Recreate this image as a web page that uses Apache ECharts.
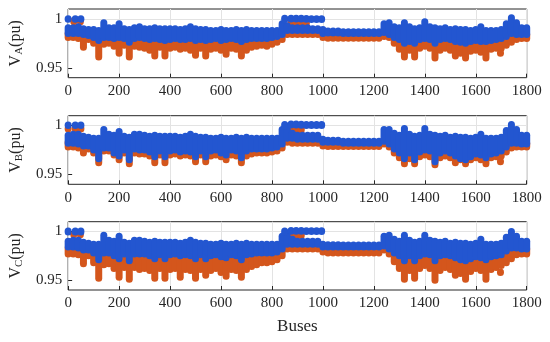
<!DOCTYPE html>
<html><head><meta charset="utf-8">
<script src="https://cdn.jsdelivr.net/npm/echarts@6/dist/echarts.min.js"></script>
<style>html,body{margin:0;padding:0;background:#fff}#c{width:550px;height:342px}</style>
</head><body><div id="c"></div>
<script>
// Bus positions of the sampled bins (every 20 buses, 0..1800)
const buses = Array.from({length: 91}, (_, i) => i * 20);
const xTicks = [0, 200, 400, 600, 800, 1000, 1200, 1400, 1600, 1800];
const yTicks = [0.95, 1];

// ---------- Phase A ----------
const hiBlueA = [
0.991,0.991,0.992,0.990,0.989,0.989,0.988,0.996,0.991,0.991,
0.995,0.990,0.989,0.991,0.992,0.990,0.990,0.991,0.990,0.990,
0.990,0.990,0.989,0.990,0.992,0.990,0.989,0.989,0.988,0.988,
0.989,0.988,0.988,0.989,0.988,0.989,0.988,0.988,0.988,0.988,
0.988,0.988,0.995,0.993,0.991,0.991,0.991,0.991,0.990,0.990,
0.989,0.9875,0.9875,0.9875,0.9868,0.9868,0.9868,0.9868,0.9868,0.9868,
0.9868,0.9868,0.995,0.996,0.992,0.991,0.996,0.992,0.990,0.991,
0.997,0.992,0.991,0.990,0.991,0.989,0.990,0.989,0.989,0.988,
0.989,0.992,0.988,0.988,0.988,0.989,0.995,1.001,0.996,0.991,
0.991];
const loBlueA = [
0.985,0.985,0.985,0.984,0.983,0.981,0.978,0.981,0.981,0.980,
0.981,0.980,0.976,0.980,0.981,0.980,0.979,0.980,0.979,0.978,
0.979,0.980,0.979,0.979,0.980,0.978,0.979,0.978,0.979,0.980,
0.978,0.979,0.980,0.979,0.977,0.979,0.980,0.980,0.980,0.980,
0.981,0.982,0.984,0.988,0.988,0.988,0.988,0.988,0.988,0.988,
0.985,0.9855,0.9855,0.9855,0.985,0.985,0.985,0.985,0.985,0.985,
0.985,0.985,0.986,0.984,0.981,0.979,0.975,0.977,0.975,0.979,
0.980,0.979,0.975,0.979,0.980,0.979,0.977,0.976,0.975,0.977,
0.978,0.977,0.977,0.978,0.979,0.980,0.982,0.985,0.984,0.984,
0.984];
const hiOrangeA = [
0.985,0.985,0.985,0.985,0.985,0.984,0.984,0.984,0.984,0.984,
0.984,0.984,0.984,0.984,0.984,0.984,0.984,0.984,0.984,0.984,
0.984,0.984,0.984,0.984,0.984,0.984,0.984,0.984,0.984,0.984,
0.984,0.984,0.984,0.984,0.984,0.984,0.984,0.984,0.984,0.984,
0.984,0.984,0.986,0.986,0.986,0.986,0.986,0.986,0.986,0.986,
0.984,0.9825,0.9825,0.9825,0.9825,0.9825,0.9825,0.9825,0.9825,0.9825,
0.9825,0.9825,0.984,0.984,0.984,0.984,0.984,0.984,0.984,0.984,
0.984,0.984,0.984,0.984,0.984,0.984,0.984,0.984,0.984,0.984,
0.984,0.984,0.984,0.984,0.984,0.984,0.984,0.984,0.984,0.984,
0.984];
const loOrangeA = [
0.981,0.981,0.980,0.971,0.979,0.975,0.961,0.974,0.975,0.972,
0.965,0.973,0.961,0.972,0.971,0.970,0.968,0.962,0.971,0.962,
0.970,0.971,0.969,0.970,0.968,0.963,0.970,0.962,0.969,0.970,
0.968,0.964,0.970,0.969,0.962,0.968,0.971,0.972,0.973,0.972,
0.974,0.976,0.979,0.984,0.984,0.984,0.984,0.984,0.984,0.984,
0.981,0.9803,0.9803,0.9803,0.9803,0.9803,0.9803,0.9803,0.9803,0.9803,
0.9803,0.9803,0.982,0.981,0.975,0.969,0.961,0.968,0.961,0.970,
0.972,0.970,0.960,0.968,0.970,0.968,0.962,0.965,0.960,0.967,
0.968,0.966,0.960,0.969,0.970,0.970,0.973,0.976,0.979,0.980,
0.980];
// isolated groups: [bus, low, high]
const extraBlueA = [[0,0.9995,1.0],[28,0.9995,1.0],[50,0.9995,1.0],[850,0.999,1.0005],
  [875,0.9998,1.0006],[895,0.9998,1.0006],[915,0.9997,1.0005],[935,0.9995,1.0003],[955,0.9993,1.0],[975,0.9993,1.0],[995,0.9993,1.0]];
const extraOrangeA = [[22,0.997,0.998],[48,0.997,0.998],[875,0.9955,0.9965],[895,0.9955,0.9965],[915,0.9955,0.9965],[935,0.9955,0.9962],[1697,0.965,0.9655]];

// ---------- Phase B ----------
const hiBlueB = [
0.990,0.991,0.991,0.989,0.988,0.987,0.987,0.996,0.991,0.990,
0.994,0.989,0.988,0.991,0.991,0.990,0.989,0.990,0.989,0.989,
0.989,0.989,0.988,0.989,0.991,0.989,0.988,0.988,0.987,0.987,
0.988,0.987,0.987,0.988,0.987,0.988,0.987,0.987,0.987,0.987,
0.987,0.987,0.996,0.996,0.992,0.990,0.990,0.990,0.990,0.990,
0.986,0.985,0.985,0.985,0.984,0.984,0.984,0.984,0.984,0.984,
0.984,0.984,0.996,0.996,0.992,0.990,0.997,0.991,0.989,0.990,
0.997,0.991,0.990,0.989,0.990,0.988,0.989,0.988,0.988,0.987,
0.988,0.991,0.987,0.987,0.987,0.988,0.995,1.001,0.996,0.990,
0.990];
const loBlueB = [
0.982,0.982,0.981,0.979,0.979,0.975,0.966,0.977,0.977,0.972,
0.969,0.975,0.965,0.976,0.975,0.975,0.973,0.968,0.974,0.968,
0.974,0.975,0.973,0.974,0.973,0.968,0.974,0.968,0.974,0.975,
0.972,0.970,0.975,0.974,0.967,0.974,0.976,0.976,0.976,0.976,
0.977,0.978,0.981,0.987,0.987,0.986,0.986,0.986,0.986,0.986,
0.983,0.983,0.983,0.983,0.982,0.982,0.982,0.982,0.982,0.982,
0.982,0.982,0.984,0.981,0.976,0.972,0.966,0.972,0.965,0.973,
0.975,0.974,0.963,0.972,0.974,0.972,0.969,0.966,0.965,0.968,
0.971,0.970,0.967,0.971,0.972,0.974,0.978,0.982,0.982,0.981,
0.981];
const hiOrangeB = [
0.983,0.983,0.983,0.983,0.983,0.982,0.982,0.982,0.982,0.982,
0.982,0.982,0.982,0.982,0.982,0.982,0.982,0.982,0.982,0.982,
0.982,0.982,0.982,0.982,0.982,0.982,0.982,0.982,0.982,0.982,
0.982,0.982,0.982,0.982,0.982,0.982,0.982,0.982,0.982,0.982,
0.982,0.982,0.985,0.985,0.985,0.985,0.985,0.985,0.985,0.985,
0.982,0.9805,0.9805,0.9805,0.9805,0.9805,0.9805,0.9805,0.9805,0.9805,
0.9805,0.9805,0.982,0.982,0.982,0.982,0.982,0.982,0.982,0.982,
0.982,0.982,0.982,0.982,0.982,0.982,0.982,0.982,0.982,0.982,
0.982,0.982,0.982,0.982,0.982,0.982,0.982,0.982,0.982,0.982,
0.982];
const loOrangeB = [
0.978,0.978,0.977,0.972,0.976,0.972,0.962,0.974,0.974,0.970,
0.965,0.972,0.961,0.972,0.971,0.971,0.969,0.962,0.970,0.962,
0.970,0.971,0.969,0.970,0.969,0.963,0.970,0.963,0.969,0.970,
0.968,0.965,0.970,0.969,0.962,0.969,0.971,0.972,0.972,0.972,
0.973,0.974,0.977,0.983,0.982,0.982,0.982,0.982,0.982,0.982,
0.979,0.9785,0.9785,0.9785,0.9785,0.9785,0.9785,0.9785,0.9785,0.9785,
0.9785,0.9785,0.981,0.978,0.972,0.967,0.961,0.966,0.961,0.968,
0.970,0.968,0.960,0.967,0.969,0.967,0.962,0.965,0.961,0.965,
0.967,0.965,0.961,0.967,0.968,0.969,0.973,0.977,0.978,0.978,
0.978];
const extraBlueB = [[0,1.0,1.0005],[28,1.0,1.0005],[50,1.0,1.0005],[850,0.999,1.001],
  [875,1.0005,1.0015],[895,1.0005,1.0015],[915,1.0003,1.0013],[935,1.0,1.001],[955,1.0,1.001],[975,1.0,1.001],[995,1.0,1.001]];
const extraOrangeB = [[0,0.9965,0.997],[28,0.9965,0.997],[50,0.9965,0.997],[875,0.9955,0.9965],[895,0.9955,0.9965],[915,0.9955,0.9965],[1697,0.963,0.9635]];

// ---------- Phase C ----------
const hiBlueC = [
0.990,0.991,0.991,0.989,0.988,0.987,0.987,0.996,0.991,0.990,
0.995,0.989,0.988,0.991,0.991,0.990,0.989,0.990,0.989,0.989,
0.989,0.989,0.988,0.989,0.991,0.989,0.988,0.988,0.987,0.987,
0.988,0.987,0.987,0.988,0.987,0.988,0.987,0.987,0.987,0.987,
0.987,0.987,0.995,0.995,0.992,0.990,0.990,0.990,0.990,0.990,
0.987,0.9865,0.9865,0.9865,0.986,0.986,0.986,0.986,0.986,0.986,
0.986,0.986,0.995,0.996,0.992,0.990,0.996,0.991,0.989,0.990,
0.996,0.991,0.990,0.989,0.990,0.988,0.989,0.988,0.988,0.987,
0.988,0.992,0.987,0.987,0.987,0.988,0.994,1.000,0.995,0.990,
0.990];
const loBlueC = [
0.984,0.984,0.983,0.981,0.981,0.978,0.971,0.978,0.978,0.975,
0.972,0.977,0.970,0.977,0.977,0.977,0.975,0.972,0.976,0.972,
0.976,0.977,0.975,0.976,0.975,0.972,0.976,0.972,0.975,0.976,
0.974,0.973,0.976,0.975,0.971,0.976,0.977,0.978,0.978,0.978,
0.978,0.979,0.982,0.987,0.987,0.987,0.987,0.987,0.987,0.987,
0.984,0.984,0.984,0.984,0.984,0.984,0.984,0.984,0.984,0.984,
0.984,0.984,0.985,0.982,0.978,0.975,0.970,0.975,0.970,0.975,
0.977,0.976,0.970,0.975,0.976,0.975,0.973,0.971,0.970,0.972,
0.974,0.973,0.971,0.974,0.975,0.976,0.980,0.983,0.983,0.982,
0.982];
const hiOrangeC = [
0.983,0.983,0.983,0.983,0.983,0.982,0.982,0.982,0.982,0.982,
0.982,0.982,0.982,0.982,0.982,0.982,0.982,0.982,0.982,0.982,
0.982,0.982,0.982,0.982,0.982,0.982,0.982,0.982,0.982,0.982,
0.982,0.982,0.982,0.982,0.982,0.982,0.982,0.982,0.982,0.982,
0.982,0.982,0.985,0.985,0.985,0.985,0.985,0.985,0.985,0.985,
0.982,0.981,0.981,0.981,0.981,0.981,0.981,0.981,0.981,0.981,
0.981,0.981,0.982,0.982,0.982,0.982,0.982,0.982,0.982,0.982,
0.982,0.982,0.982,0.982,0.982,0.982,0.982,0.982,0.982,0.982,
0.982,0.982,0.982,0.982,0.982,0.982,0.982,0.982,0.982,0.982,
0.982];
const loOrangeC = [
0.977,0.977,0.976,0.967,0.975,0.968,0.952,0.966,0.967,0.962,
0.953,0.963,0.951,0.963,0.961,0.962,0.960,0.952,0.962,0.952,
0.961,0.962,0.953,0.961,0.960,0.952,0.961,0.955,0.960,0.962,
0.958,0.954,0.961,0.960,0.953,0.961,0.964,0.966,0.968,0.968,
0.969,0.971,0.975,0.982,0.982,0.982,0.982,0.982,0.982,0.982,
0.979,0.978,0.978,0.978,0.978,0.978,0.978,0.978,0.978,0.978,
0.978,0.978,0.981,0.977,0.969,0.962,0.951,0.960,0.952,0.962,
0.965,0.962,0.950,0.960,0.963,0.961,0.955,0.957,0.951,0.959,
0.962,0.960,0.951,0.961,0.963,0.965,0.968,0.972,0.976,0.977,
0.977];
const extraBlueC = [[0,0.9995,1.0005],[28,0.9995,1.0005],[50,0.9995,1.0005],[850,0.999,1.0005],
  [875,1.0003,1.001],[895,1.0003,1.001],[915,1.0002,1.001],[935,1.0,1.0008],[955,1.0,1.0008],[975,1.0,1.0008],[995,1.0,1.0008]];
const extraOrangeC = [[22,0.9965,0.997],[48,0.9965,0.997],[875,0.9955,0.9965],[895,0.9955,0.9965],[915,0.9955,0.9965],[1697,0.958,0.9585]];

const panels = [
  {name: 'A', hiB: hiBlueA, loB: loBlueA, hiO: hiOrangeA, loO: loOrangeA, exB: extraBlueA, exO: extraOrangeA},
  {name: 'B', hiB: hiBlueB, loB: loBlueB, hiO: hiOrangeB, loO: loOrangeB, exB: extraBlueB, exO: extraOrangeB},
  {name: 'C', hiB: hiBlueC, loB: loBlueC, hiO: hiOrangeC, loO: loOrangeC, exB: extraBlueC, exO: extraOrangeC}
];

const FONT = '"Liberation Serif", "Times New Roman", serif';
const TXT = '#262626';
const BLUE = '#2356d0', ORANGE = '#d4561c';
const gridPos = [{top: 9, height: 68.7}, {top: 115.7, height: 68.6}, {top: 221.7, height: 68.3}];

let bad = [];
panels.forEach(p => ['hiB','loB','hiO','loO'].forEach(k => { if (p[k].length !== buses.length) bad.push(p.name + k + ':' + p[k].length); }));

function triples(lo, hi) { return buses.map((b, i) => [b, lo[i], hi[i]]); }
function renderer(color) {
  return function (params, api) {
    const x = api.value(0);
    const a = api.coord([x, api.value(1)]);
    const b = api.coord([x, api.value(2)]);
    return {type: 'line', shape: {x1: a[0], y1: a[1], x2: b[0], y2: b[1]},
      style: {stroke: color, lineWidth: 7, lineCap: 'round', fill: null}};
  };
}

const grid = [], xAxis = [], yAxis = [], series = [];
panels.forEach((p, i) => {
  grid.push({left: 61.7, width: 465, top: gridPos[i].top, height: gridPos[i].height,
    show: true, borderColor: '#262626', borderWidth: 1, backgroundColor: 'transparent'});
  xAxis.push({gridIndex: i, type: 'value', min: 0, max: 1800, interval: 200,
    axisLine: {show: false},
    axisTick: {show: true, inside: true, length: 4, lineStyle: {color: '#262626'}},
    axisLabel: {fontFamily: FONT, fontSize: 15, color: TXT, margin: 6, customValues: xTicks,
      formatter: v => String(v)},
    splitLine: {show: true, lineStyle: {color: '#e3e3e3', width: 1}},
    name: i === 2 ? 'Buses' : '', nameLocation: 'middle', nameGap: 28,
    nameTextStyle: {fontFamily: FONT, fontSize: 17, color: TXT}});
  yAxis.push({gridIndex: i, type: 'value', min: 0.94, max: 1.01, interval: 0.01,
    axisLine: {show: false},
    axisTick: {show: true, inside: true, length: 4, customValues: yTicks, lineStyle: {color: '#262626'}},
    axisLabel: {fontFamily: FONT, fontSize: 15, color: TXT, margin: 6, customValues: yTicks,
      formatter: v => (Math.abs(v - 1) < 1e-6 ? '1' : String(v))},
    splitLine: {show: true, lineStyle: {width: 1,
      color: ['rgba(0,0,0,0)', '#e3e3e3', 'rgba(0,0,0,0)', 'rgba(0,0,0,0)', 'rgba(0,0,0,0)', 'rgba(0,0,0,0)', '#e3e3e3', 'rgba(0,0,0,0)']}},
    name: 'V{s|' + p.name + '}(pu)', nameLocation: 'middle', nameRotate: 90, nameGap: 36,
    nameTextStyle: {fontFamily: FONT, fontSize: 16, color: TXT,
      rich: {s: {fontFamily: FONT, fontSize: 11, color: TXT, verticalAlign: 'bottom', padding: [7, 0, 0, 0]}}}});
  series.push({type: 'custom', xAxisIndex: i, yAxisIndex: i, renderItem: renderer(ORANGE),
    encode: {x: 0, y: [1, 2]}, silent: true, animation: false,
    data: triples(p.loO, p.hiO).concat(p.exO)});
  series.push({type: 'custom', xAxisIndex: i, yAxisIndex: i, renderItem: renderer(BLUE),
    encode: {x: 0, y: [1, 2]}, silent: true, animation: false,
    data: triples(p.loB, p.hiB).concat(p.exB)});
});

const chart = echarts.init(document.getElementById('c'), null, {renderer: 'canvas'});
chart.setOption({
  animation: false, backgroundColor: '#fff',
  grid, xAxis, yAxis, series,
  graphic: bad.length ? [{type: 'text', left: 10, top: 10, style: {text: 'LEN ' + bad.join(' '), fill: 'red', fontSize: 12}}] : []
});
</script></body></html>
